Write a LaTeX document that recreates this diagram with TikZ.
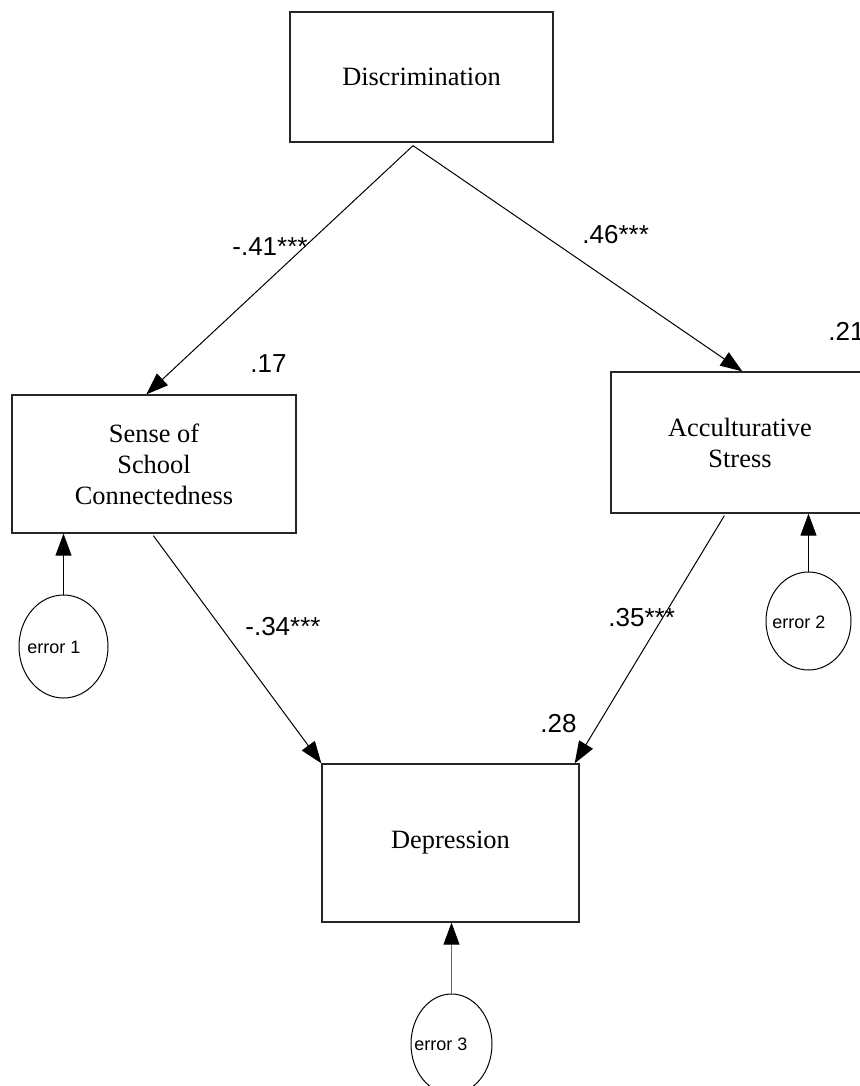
\documentclass[tikz,border=0pt]{standalone}
\usepackage{fontspec}
\setmainfont{Liberation Serif}
\newfontfamily\arialfont{Liberation Sans}
\usetikzlibrary{arrows.meta,shapes.geometric,calc}

\tikzset{
  varbox/.style={draw=black!85, line width=0.65pt, rectangle, align=center,
    inner sep=0pt, font=\fontsize{13.2}{15.5}\selectfont},
  errnode/.style={draw=black, line width=0.5pt, ellipse, inner sep=0pt},
  errtext/.style={anchor=base west, inner sep=0pt, font=\arialfont\fontsize{9}{11}\selectfont},
  coef/.style={anchor=base west, inner sep=0pt, font=\arialfont\fontsize{13}{15}\selectfont},
  path/.style={line width=0.5pt, -{Triangle[length=11pt,width=8pt,color=black]}},
}

\begin{document}
\begin{tikzpicture}[x=0.5pt, y=-0.5pt]
\useasboundingbox (0,0) rectangle (859,1086);

% observed variables
\node[varbox, minimum width=131.5pt, minimum height=65pt] (disc) at (421.5,77) {Discrimination};
\node[varbox, minimum width=142pt, minimum height=69pt] (sense) at (154,464) {Sense of\\School\\Connectedness};
\node[varbox, minimum width=129pt, minimum height=70.5pt] (acc) at (740,442.5) {Acculturative\\Stress};
\node[varbox, minimum width=128.5pt, minimum height=79pt] (dep) at (450.5,843) {Depression};

% error terms
\node[errnode, minimum width=44.5pt, minimum height=51.5pt] (e1) at (63.5,646.5) {};
\node[errnode, minimum width=42.5pt, minimum height=49pt] (e2) at (808.5,621) {};
\node[errnode, minimum width=40.5pt, minimum height=50pt] (e3) at (451.5,1044) {};
\node[errtext] (e1t) at (27,653) {error 1};
\node[errtext] (e2t) at (772,628) {error 2};
\node[errtext] (e3t) at (414,1050) {error 3};

% path end points
\coordinate (discout) at ($(disc.south)+(-8.5,3)$);
\coordinate (sensein) at ($(sense.north west)+(135,0)$);
\coordinate (accin) at ($(acc.north west)+(132,0)$);
\coordinate (senseout) at ($(sense.south west)+(142,2)$);
\coordinate (accout) at ($(acc.south west)+(114,2)$);
\coordinate (depleft) at (dep.north west);
\coordinate (depright) at ($(dep.north east)+(-5,0)$);

% structural paths
\draw[path] (discout) -- (sensein);
\draw[path] (discout) -- (accin);
\draw[path] (senseout) -- (depleft);
\draw[path] (accout) -- (depright);

% residual paths
\draw[path] (e1.north) -- (e1.north |- sense.south);
\draw[path] (e2.north) -- (e2.north |- acc.south);
\draw[path, draw=black!60] (e3.north) -- (e3.north |- dep.south);

% coefficients and explained variance
\node[coef] (c1) at (232,255) {-.41***};
\node[coef] (c2) at (582,243) {.46***};
\node[coef] (c3) at (245,635) {-.34***};
\node[coef] (c4) at (608,626) {.35***};
\node[coef] (r1) at (250,372) {.17};
\node[coef] (r2) at (828,340) {.21};
\node[coef] (r3) at (540,732) {.28};
\end{tikzpicture}
\end{document}
